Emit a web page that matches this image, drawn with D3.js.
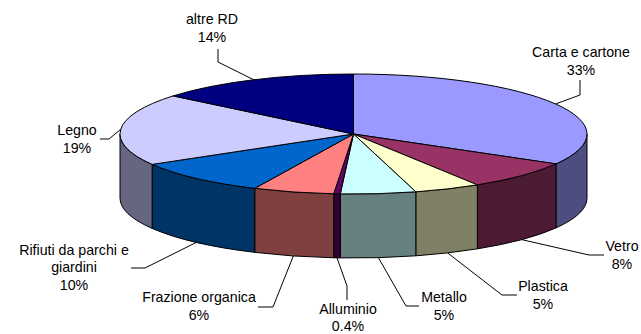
<!DOCTYPE html>
<html lang="en">
	<head>
		<meta charset="utf-8">
		<title>D3: 3D pie</title>
		<script src="https://d3js.org/d3.v7.min.js"></script>
		<style type="text/css">
			html, body { margin: 0; padding: 0; background: #fff; }
			svg { display: block; }
			text { font-family: "Liberation Sans", Arial, sans-serif; font-size: 14.2px; fill: #000; }
		</style>
	</head>
	<body>
		<script type="text/javascript">
			// data
			var categories = ["Carta e cartone", "Vetro", "Plastica", "Metallo", "Alluminio", "Frazione organica", "Rifiuti da parchi e giardini", "Legno", "altre RD"];
			var values = [33.3, 7.8, 4.6, 5.2, 0.45, 5.6, 9.6, 19.4, 14.05];
			var valueLabels = ["33%", "8%", "5%", "5%", "0.4%", "6%", "10%", "19%", "14%"];
			var topColors = ["#9999ff", "#993366", "#ffffcc", "#ccffff", "#660066", "#ff8080", "#0066cc", "#ccccff", "#000080"];
			var sideColors = ["#4d4d80", "#4d1a33", "#808066", "#668080", "#330033", "#804040", "#003366", "#666680", "#000040"];

			// layout, by hand
			var w = 641, h = 334;
			var cx = 353.5, cy = 134, rx = 233.5, ry = 60, depth = 64;
			var categoryLines = [["Carta e cartone"], ["Vetro"], ["Plastica"], ["Metallo"], ["Alluminio"], ["Frazione organica"], ["Rifiuti da parchi e", "giardini"], ["Legno"], ["altre RD"]];
			var labelX = [581, 622, 543, 444, 348, 199, 74, 77, 212];
			var labelY = [57, 251, 291, 302, 313.5, 302, 254.5, 135, 24];
			var leaderElbows = [[[580, 95], [580, 80]], [[589, 255], [604, 255]], [[502, 295], [517, 295]], [[406, 306], [419, 306]], [[347, 286], [347, 300]], [[273, 307], [258, 307]], [[145, 268], [131, 268]], [[109, 139], [100, 139]], [[218, 62], [218, 49]]];

			var svg = d3.select("body").append("svg")
				.attr("width", w)
				.attr("height", h);

			var slices = d3.pie().sort(null).value(function(d){ return d; })(values);

			function px(a, dy){ return [cx + rx * Math.sin(a), cy - ry * Math.cos(a) + (dy || 0)]; }

			function topPath(d){
				var a = px(d.startAngle), b = px(d.endAngle);
				var large = d.endAngle - d.startAngle > Math.PI ? 1 : 0;
				return "M" + cx + "," + cy + "L" + a + "A" + rx + "," + ry + " 0 " + large + " 1 " + b + "Z";
			}

			// only the front half of the rim (90 to 270 deg) shows
			function sidePath(d){
				var s = Math.max(d.startAngle, Math.PI / 2), e = Math.min(d.endAngle, Math.PI * 3 / 2);
				if (s >= e) return null;
				var a = px(s), b = px(e), c = px(e, depth), f = px(s, depth);
				return "M" + a + "A" + rx + "," + ry + " 0 0 1 " + b + "L" + c + "A" + rx + "," + ry + " 0 0 0 " + f + "Z";
			}

			svg.selectAll("path.side")
				.data(slices)
				.enter()
				.append("path")
				.attr("class", "side")
				.attr("d", sidePath)
				.attr("fill", function(d, i){ return sideColors[i]; })
				.attr("stroke", "#000")
				.attr("stroke-width", 1);

			svg.selectAll("path.top")
				.data(slices)
				.enter()
				.append("path")
				.attr("class", "top")
				.attr("d", topPath)
				.attr("fill", function(d, i){ return topColors[i]; })
				.attr("stroke", "#000")
				.attr("stroke-width", 1);

			// leader lines start on the rim at the middle of each slice
			svg.selectAll("polyline")
				.data(slices)
				.enter()
				.append("polyline")
				.attr("points", function(d, i){
					var mid = (d.startAngle + d.endAngle) / 2;
					var front = mid > Math.PI / 2 && mid < Math.PI * 3 / 2;
					return [px(mid, front ? depth : 0)].concat(leaderElbows[i]).join(" ");
				})
				.attr("fill", "none")
				.attr("stroke", "#000")
				.attr("stroke-width", 1);

			categories.forEach(function(c, i){
				var lines = categoryLines[i].concat(valueLabels[i]);
				svg.append("text")
					.attr("text-anchor", "middle")
					.attr("x", labelX[i])
					.attr("y", labelY[i])
					.selectAll("tspan")
					.data(lines)
					.enter()
					.append("tspan")
					.attr("x", labelX[i])
					.attr("dy", function(d, j){ return j ? 17.5 : 0; })
					.text(function(d){ return d; });
			});
		</script>
	</body>
</html>
